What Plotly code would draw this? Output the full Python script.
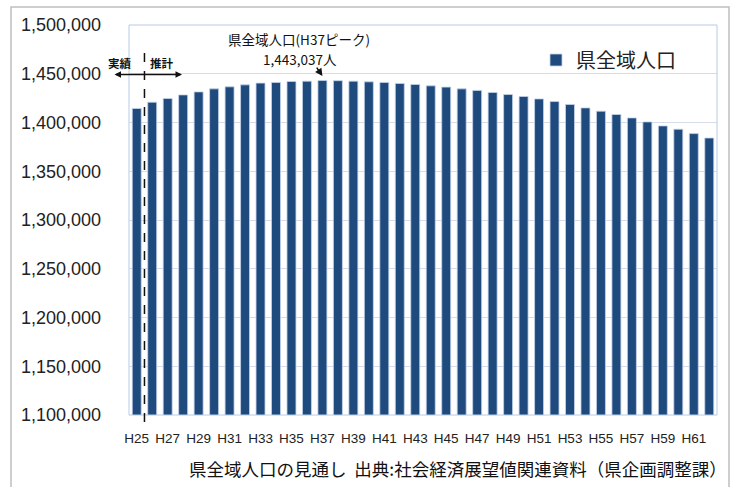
import plotly.graph_objects as go

# Data
years = [f"H{n}" for n in range(25, 63)]
population = [
    1414350, 1420800, 1424600, 1428300, 1431400, 1434500, 1436600, 1438600,
    1440400, 1441100, 1442100, 1442400, 1443037, 1442900, 1442400, 1441700,
    1441100, 1440000, 1439000, 1437600, 1436300, 1434500, 1432900, 1430800,
    1428700, 1426700, 1424200, 1421500, 1418500, 1415000, 1411600, 1408200,
    1404700, 1400600, 1396500, 1393100, 1388600, 1384100,
]
tick_labels = years[::2]
y_ticks = list(range(1100000, 1500001, 50000))

W, H = 733, 487
L, R, T, B = 129, 16, 25, 72
PW, PH = W - L - R, H - T - B


def px(xp):
    return (xp - L) / PW


def py(yp):
    return (H - B - yp) / PH


fig = go.Figure()
fig.add_trace(go.Bar(
    x=years, y=population, name="県全域人口",
    marker=dict(color="#1F4A7E", line=dict(color="#C4D3E8", width=0.8)),
))

font_main = "Liberation Sans, Arial, sans-serif"
font_cjk = "Noto Sans CJK JP, sans-serif"

fig.update_layout(
    width=W, height=H,
    margin=dict(l=L, r=R, t=T, b=B, autoexpand=False),
    paper_bgcolor="white", plot_bgcolor="white",
    bargap=0.42,
    showlegend=True,
    legend=dict(
        x=px(536), y=py(60), xanchor="left", yanchor="middle",
        font=dict(family=font_cjk, size=20, color="#222"),
        bgcolor="rgba(0,0,0,0)", itemwidth=30,
    ),
    xaxis=dict(
        type="category", tickmode="array", tickvals=tick_labels, ticktext=tick_labels,
        showgrid=False, showline=False, ticks="",
        tickfont=dict(family=font_main, size=13.5, color="#222"),
        ticklabelstandoff=13,
    ),
    yaxis=dict(
        range=[1100000, 1500000], tickvals=y_ticks,
        ticktext=[f"{v:,}" for v in y_ticks],
        showgrid=True, gridcolor="#D6DDE8", gridwidth=1,
        zeroline=False, showline=False, ticks="",
        tickfont=dict(family=font_main, size=18, color="#222"),
        ticklabelstandoff=27,
    ),
)

shapes = [
    # plot area border
    dict(type="rect", xref="paper", yref="paper", x0=0, x1=1, y0=0, y1=1,
         line=dict(color="#B8CCE4", width=1), layer="above"),
    # outer frame
    dict(type="rect", xref="paper", yref="paper", x0=px(11), x1=px(729),
         y0=py(7), y1=py(520), line=dict(color="#BFBFBF", width=1.5)),
    # dashed divider between actual and projection
    dict(type="line", xref="x", yref="paper", x0=0.5, x1=0.5,
         y0=py(53), y1=py(422), line=dict(color="#111", width=1.5, dash="dash")),
]
fig.update_layout(shapes=shapes)

annotations = [
    dict(text="県全域人口(H37ピーク)", xref="paper", yref="paper",
         x=px(299), y=py(39), xanchor="center", yanchor="middle", showarrow=False,
         borderpad=0, font=dict(family=font_cjk, size=13.5, color="#111")),
    dict(text="1,443,037人", xref="paper", yref="paper",
         x=px(300), y=py(58.5), xanchor="center", yanchor="middle", showarrow=False,
         borderpad=0, font=dict(family=font_cjk, size=13.5, color="#111")),
    dict(text="", xref="x", yref="y", x="H37", y=1447565,
         ax=-6, ay=-9, showarrow=True, arrowhead=2, arrowsize=1,
         arrowwidth=1.5, arrowcolor="#111", borderpad=0),
    dict(text="<b>実績</b>", xref="paper", yref="paper",
         x=px(120), y=py(63), xanchor="center", yanchor="middle", showarrow=False,
         font=dict(family=font_cjk, size=11.5, color="#111")),
    dict(text="<b>推計</b>", xref="paper", yref="paper",
         x=px(162), y=py(63), xanchor="center", yanchor="middle", showarrow=False,
         font=dict(family=font_cjk, size=11.5, color="#111")),
    dict(text="", xref="paper", yref="paper", x=px(182), y=py(74.5),
         ax=-69, ay=0, showarrow=True, arrowhead=2, startarrowhead=2,
         arrowside="end+start", arrowwidth=1.3, arrowcolor="#111", arrowsize=1),
    dict(text="県全域人口の見通し  出典:社会経済展望値関連資料（県企画調整課）",
         xref="paper", yref="paper", x=px(729), y=py(468), xanchor="right",
         yanchor="middle", showarrow=False,
         font=dict(family=font_cjk, size=17.5, color="#111")),
]
fig.update_layout(annotations=annotations)

fig.write_html("out.html", post_script="document.body.style.margin='0';",
               config={"displayModeBar": False})
